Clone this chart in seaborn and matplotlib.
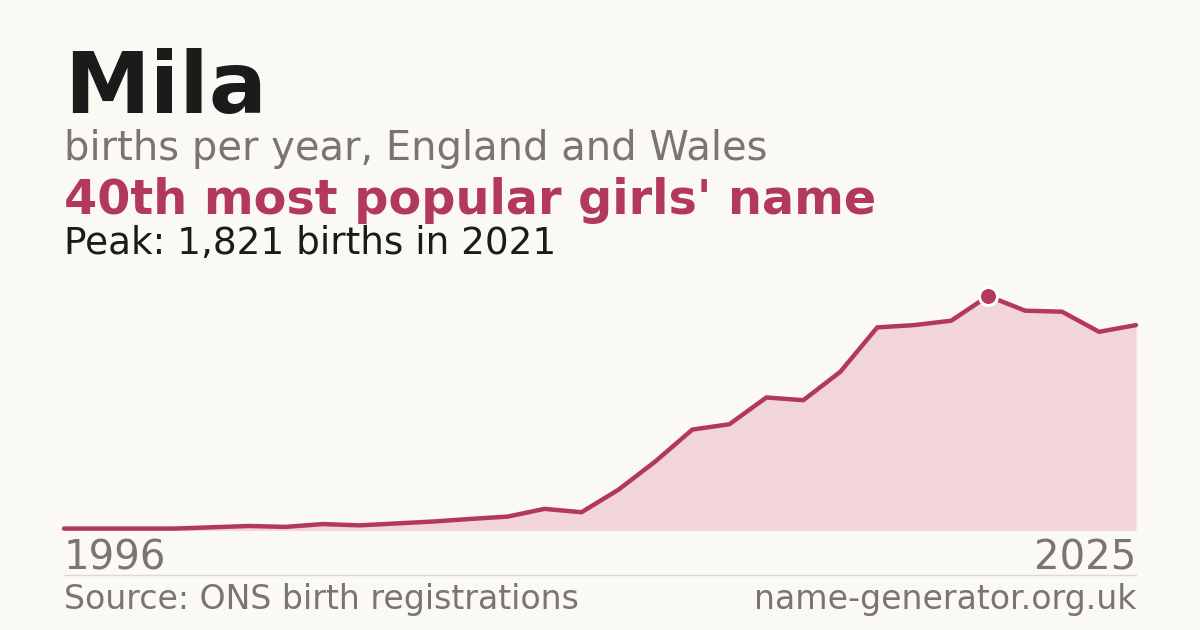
import matplotlib
matplotlib.use("Agg")
import matplotlib.pyplot as plt
import seaborn as sns
import pandas as pd

years = list(range(1996, 2026))
births = [15, 15, 15, 15, 25, 35, 28, 50, 40, 55, 70, 90, 108, 168, 142,
          317, 537, 784, 825, 1033, 1012, 1232, 1577, 1595, 1629, 1821,
          1707, 1699, 1543, 1595]
name = "Mila"
subtitle = "births per year, England and Wales"
rank_text = "40th most popular girls' name"
peak_text = "Peak: 1,821 births in 2021"
source_text = "Source: ONS birth registrations"
site_text = "name-generator.org.uk"

BG = "#faf9f4"
RED = "#b3395a"
FILL = "#f1d5db"
GRAY = "#7a756e"
DARK = "#1b1b1b"

sns.set_theme(style="white")
plt.rcParams["font.family"] = ["DejaVu Sans"]

W, H = 1200, 630
fig = plt.figure(figsize=(12, 6.3), dpi=100, facecolor=BG)

def px(x, y):
    return x / W, 1 - y / H

x0, x1 = 64, 1136
base_y, peak_y = 530.5, 296
ax = fig.add_axes([x0 / W, (H - base_y) / H, (x1 - x0) / W, (base_y - peak_y) / H])
ax.set_facecolor("none")
df = pd.DataFrame({"year": years, "births": births})

ax.fill_between(df["year"], 0, df["births"], color=FILL, linewidth=0, zorder=1)
sns.lineplot(data=df, x="year", y="births", ax=ax, color=RED, linewidth=3.2,
             zorder=3, clip_on=False, solid_joinstyle="miter")
peak_idx = births.index(max(births))
ax.plot([years[peak_idx]], [births[peak_idx]], marker="o", markersize=13,
        markerfacecolor=RED, markeredgecolor="white", markeredgewidth=2.2,
        zorder=5, clip_on=False)

ax.set_xlim(years[0], years[-1])
ax.set_ylim(0, max(births))
ax.set_axis_off()

# header texts
fig.text(*px(64, 113), name, fontsize=62, fontweight="bold", color=DARK, va="baseline", ha="left")
fig.text(*px(64, 160), subtitle, fontsize=28.8, color=GRAY, va="baseline", ha="left")
fig.text(*px(64, 214), rank_text, fontsize=34.4, fontweight="bold", color=RED, va="baseline", ha="left")
fig.text(*px(64, 254), peak_text, fontsize=26.9, color=DARK, va="baseline", ha="left")

# axis end labels
fig.text(*px(64, 569), str(years[0]), fontsize=28.9, color=GRAY, va="baseline", ha="left")
fig.text(*px(1136, 569), str(years[-1]), fontsize=28.9, color=GRAY, va="baseline", ha="right")

# separator
fig.add_artist(plt.Line2D([64 / W, 1136 / W], [1 - 574.5 / H, 1 - 574.5 / H],
                          color="#dcd9d3", linewidth=1.0))

fig.text(*px(64, 609), source_text, fontsize=23.9, color=GRAY, va="baseline", ha="left")
fig.text(*px(1136, 609), site_text, fontsize=23.9, color=GRAY, va="baseline", ha="right")

fig.savefig("out.png", dpi=100, facecolor=BG)
